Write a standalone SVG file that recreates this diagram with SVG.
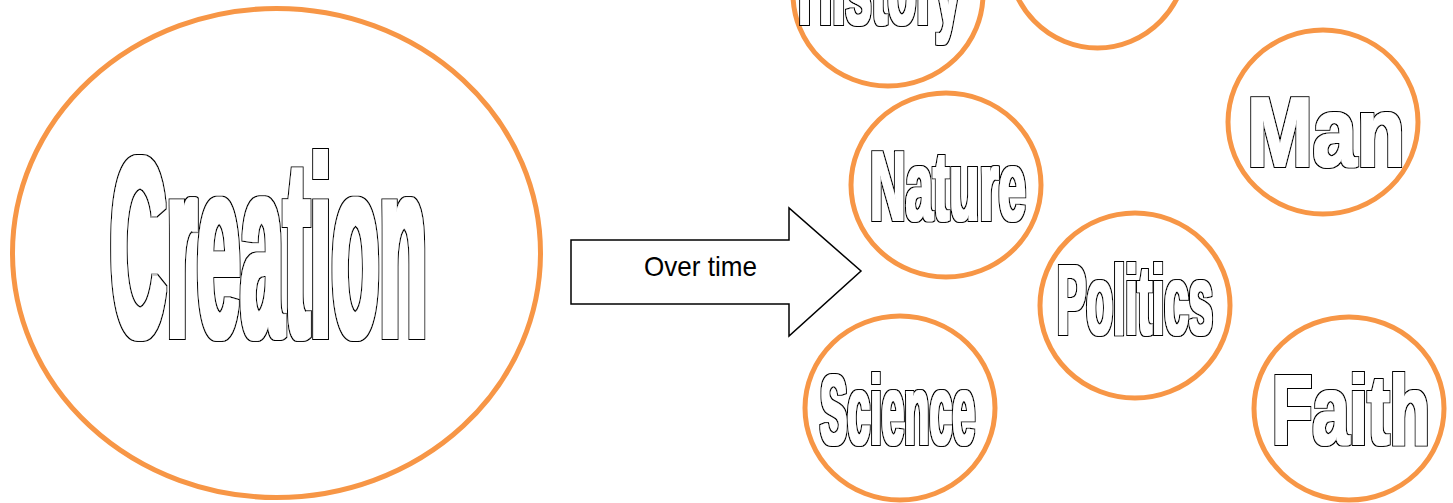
<svg xmlns="http://www.w3.org/2000/svg" width="1453" height="503" viewBox="0 0 1453 503">
<style>
.ring{fill:#fff;stroke:#F79646;stroke-width:5}
.word{font-family:"Liberation Sans",Arial,sans-serif;font-weight:700;fill:#000}
.lbl{font-family:"Liberation Sans",Arial,sans-serif;font-size:28px;fill:#000}
</style>
<defs>
<filter id="ol" filterUnits="userSpaceOnUse" x="0" y="-150" width="1453" height="800">
<feMorphology in="SourceAlpha" operator="dilate" radius="1" result="body"/>
<feMorphology in="body" operator="dilate" radius="1.4" result="edge"/>
<feFlood flood-color="#000" result="k"/>
<feComposite in="k" in2="edge" operator="in" result="ke"/>
<feFlood flood-color="#fff" result="w"/>
<feComposite in="w" in2="body" operator="in" result="wb"/>
<feMerge><feMergeNode in="ke"/><feMergeNode in="wb"/></feMerge>
</filter>
<filter id="olBig" filterUnits="userSpaceOnUse" x="0" y="-150" width="1453" height="800">
<feMorphology in="SourceAlpha" operator="dilate" radius="2" result="body"/>
<feMorphology in="body" operator="dilate" radius="1.4" result="edge"/>
<feFlood flood-color="#000" result="k"/>
<feComposite in="k" in2="edge" operator="in" result="ke"/>
<feFlood flood-color="#fff" result="w"/>
<feComposite in="w" in2="body" operator="in" result="wb"/>
<feMerge><feMergeNode in="ke"/><feMergeNode in="wb"/></feMerge>
</filter>
</defs>
<rect width="1453" height="503" fill="#fff"/>
<g id="creation">
<ellipse class="ring" cx="276.5" cy="253" rx="264" ry="244.5"/>
<g filter="url(#olBig)"><text class="word" x="110" y="337" font-size="256" textLength="317" lengthAdjust="spacingAndGlyphs">Creation</text></g>
</g>
<g id="connectors">
<path d="M571 240 H789 V208 L861 271 L789 336 V304 H571 Z" fill="#fff" stroke="#000" stroke-width="1.5"/>
<text class="lbl" x="644" y="276" textLength="113" lengthAdjust="spacingAndGlyphs">Over time</text>
</g>
<g id="history">
<ellipse class="ring" cx="888" cy="-6" rx="95" ry="92"/>
<g filter="url(#ol)"><text class="word" x="798" y="24" font-size="98" textLength="163" lengthAdjust="spacingAndGlyphs">History</text></g>
</g>
<g id="top-circle">
<ellipse class="ring" cx="1097.5" cy="-44" rx="89.5" ry="92"/>
</g>
<g id="man">
<ellipse class="ring" cx="1323" cy="122" rx="95" ry="92"/>
<g filter="url(#ol)"><text class="word" x="1247" y="166" font-size="98" textLength="158" lengthAdjust="spacingAndGlyphs">Man</text></g>
</g>
<g id="nature">
<ellipse class="ring" cx="946" cy="185" rx="95" ry="92"/>
<g filter="url(#ol)"><text class="word" x="870" y="220" font-size="98" textLength="156" lengthAdjust="spacingAndGlyphs">Nature</text></g>
</g>
<g id="politics">
<ellipse class="ring" cx="1135" cy="305.5" rx="95" ry="92.5"/>
<g filter="url(#ol)"><text class="word" x="1057" y="334" font-size="98" textLength="156" lengthAdjust="spacingAndGlyphs">Politics</text></g>
</g>
<g id="science">
<ellipse class="ring" cx="900" cy="408" rx="95" ry="92"/>
<g filter="url(#ol)"><text class="word" x="820" y="444" font-size="98" textLength="155" lengthAdjust="spacingAndGlyphs">Science</text></g>
</g>
<g id="faith">
<ellipse class="ring" cx="1349" cy="408.5" rx="95" ry="91.5"/>
<g filter="url(#ol)"><text class="word" x="1272" y="444" font-size="98" textLength="158" lengthAdjust="spacingAndGlyphs">Faith</text></g>
</g>
</svg>
